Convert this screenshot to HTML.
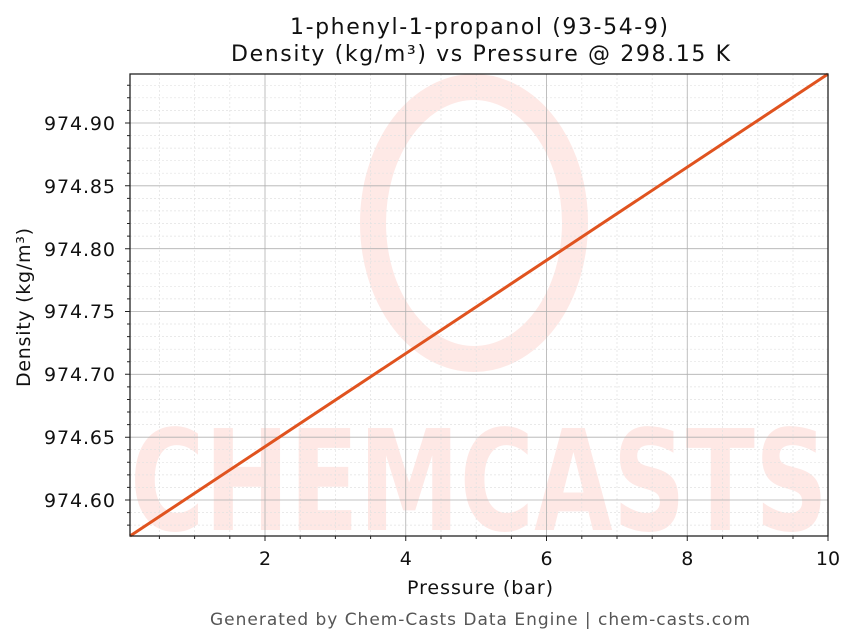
<!DOCTYPE html>
<html><head><meta charset="utf-8"><style>
html,body{margin:0;padding:0;background:#fff;}
svg{display:block;font-family:"DejaVu Sans","Liberation Sans",sans-serif;}
</style></head><body>
<svg width="856" height="644" viewBox="0 0 856 644" xmlns="http://www.w3.org/2000/svg">
<rect width="856" height="644" fill="#fff"/>
<g opacity="0.3">
<ellipse cx="474" cy="223" rx="101" ry="136" fill="none" stroke="#fcb5ac" stroke-width="26"/>
<text x="130" y="530" font-size="140" font-weight="bold" fill="#fcb5ac" textLength="698" lengthAdjust="spacingAndGlyphs">CHEMCASTS</text>
</g>
<g stroke="#e2e2e2" stroke-width="0.7" stroke-dasharray="2,2">
<path d="M159.4 74V536M194.6 74V536M229.8 74V536M300.2 74V536M335.4 74V536M370.6 74V536M441 74V536M476.2 74V536M511.4 74V536M581.8 74V536M617 74V536M652.2 74V536M722.6 74V536M757.8 74V536M793 74V536"/>
<path d="M130 525.1H828M130 512.6H828M130 487.4H828M130 474.9H828M130 462.3H828M130 449.7H828M130 424.6H828M130 412H828M130 399.5H828M130 386.9H828M130 361.7H828M130 349.2H828M130 336.6H828M130 324H828M130 298.9H828M130 286.3H828M130 273.8H828M130 261.2H828M130 236.1H828M130 223.5H828M130 210.9H828M130 198.4H828M130 173.2H828M130 160.7H828M130 148.1H828M130 135.6H828M130 110.4H828M130 97.8H828M130 85.3H828"/>
</g>
<g stroke="#b0b0b0" stroke-width="0.8">
<path d="M265 74V536M405.75 74V536M546.5 74V536M687.25 74V536"/>
<path d="M130 500H828M130 437.2H828M130 374.3H828M130 311.5H828M130 248.7H828M130 185.8H828M130 123H828"/>
</g>
<line x1="130" y1="536" x2="828" y2="74" stroke="#e0531f" stroke-width="3"/>
<rect x="130" y="74" width="698" height="462" fill="none" stroke="#222" stroke-width="1.3"/>
<g stroke="#222" stroke-width="1">
<path d="M265 536v5M405.75 536v5M546.5 536v5M687.25 536v5M828 536v5"/>
<path d="M159.4 536v3M194.6 536v3M229.8 536v3M300.2 536v3M335.4 536v3M370.6 536v3M441 536v3M476.2 536v3M511.4 536v3M581.8 536v3M617 536v3M652.2 536v3M722.6 536v3M757.8 536v3M793 536v3"/>
<path d="M130 500h-5M130 437.2h-5M130 374.3h-5M130 311.5h-5M130 248.7h-5M130 185.8h-5M130 123h-5"/>
<path d="M130 525.1h-3M130 512.6h-3M130 487.4h-3M130 474.9h-3M130 462.3h-3M130 449.7h-3M130 424.6h-3M130 412h-3M130 399.5h-3M130 386.9h-3M130 361.7h-3M130 349.2h-3M130 336.6h-3M130 324h-3M130 298.9h-3M130 286.3h-3M130 273.8h-3M130 261.2h-3M130 236.1h-3M130 223.5h-3M130 210.9h-3M130 198.4h-3M130 173.2h-3M130 160.7h-3M130 148.1h-3M130 135.6h-3M130 110.4h-3M130 97.8h-3M130 85.3h-3"/>
</g>
<g font-size="19" fill="#111" text-anchor="middle">
<text x="265" y="565">2</text><text x="405.75" y="565">4</text><text x="546.5" y="565">6</text><text x="687.25" y="565">8</text><text x="828" y="565">10</text>
</g>
<g font-size="19" fill="#111" text-anchor="end">
<text x="115" y="507" textLength="71">974.60</text><text x="115" y="444" textLength="71">974.65</text><text x="115" y="381" textLength="71">974.70</text><text x="115" y="318" textLength="71">974.75</text><text x="115" y="256" textLength="71">974.80</text><text x="115" y="193" textLength="71">974.85</text><text x="115" y="130" textLength="71">974.90</text>
</g>
<text x="407" y="594" font-size="19" fill="#111" textLength="146">Pressure (bar)</text>
<text transform="translate(30,387) rotate(-90)" font-size="19" fill="#111" textLength="159">Density (kg/m³)</text>
<text x="290" y="34" font-size="22" fill="#111" textLength="378">1-phenyl-1-propanol (93-54-9)</text>
<text x="231" y="61" font-size="22" fill="#111" textLength="499">Density (kg/m³) vs Pressure @ 298.15 K</text>
<text x="210" y="625" font-size="17" fill="#555" textLength="540">Generated by Chem-Casts Data Engine | chem-casts.com</text>
</svg>
</body></html>
